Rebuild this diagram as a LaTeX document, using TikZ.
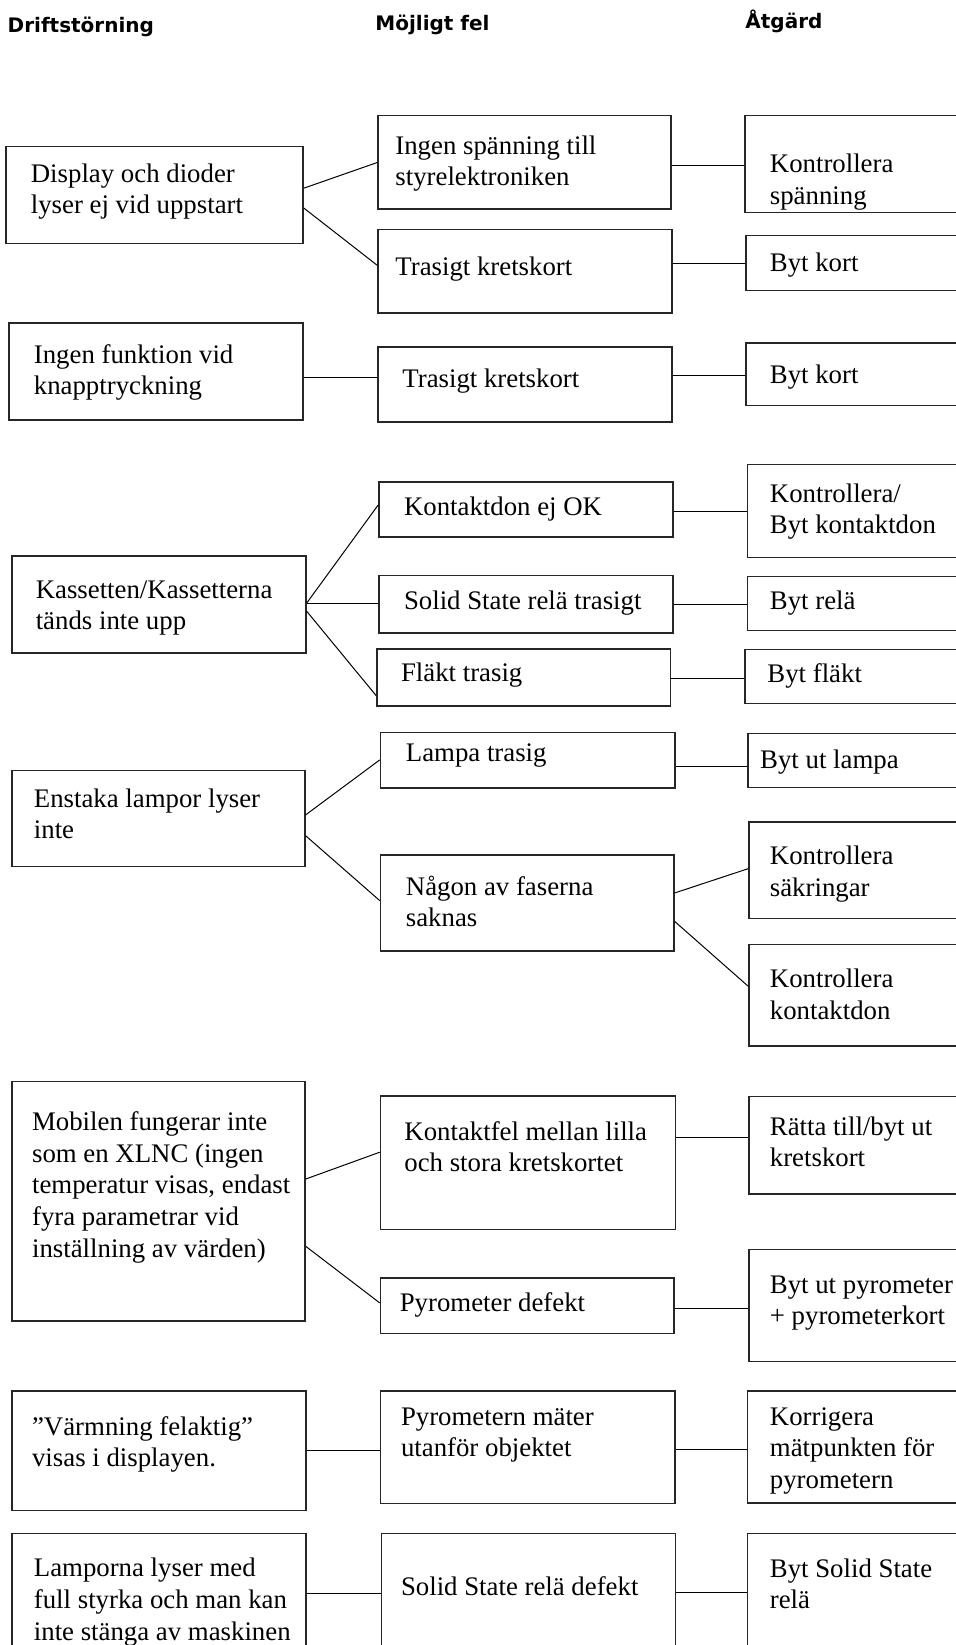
\documentclass[tikz,border=0pt]{standalone}
\usepackage{fontspec}
\setmainfont{Liberation Serif}
\newfontfamily\hdfont{DejaVu Sans}
\usetikzlibrary{fit}
\begin{document}
\begin{tikzpicture}[x=0.5pt,y=-0.5pt,
 box/.style={draw=black!85, line width=0.75pt, inner sep=0pt, rectangle},
 txt/.style={anchor=base west, inner sep=0pt, align=left, font=\fontsize{13.4}{15.9}\selectfont},
 hd/.style={anchor=base west, inner sep=0pt, font=\hdfont\bfseries\fontsize{10}{12}\selectfont},
 conn/.style={draw=black, line width=0.5pt}]
\useasboundingbox (0,0) rectangle (956,1645);
\clip (0,0) rectangle (956,1645);
% headers
\node[hd] (h1) at (7.3,32.3) {Driftstörning};
\node[hd] (h2) at (375,30.0) {Möjligt fel};
\node[hd] (h3) at (745,28.3) {Åtgärd};
% boxes
\node[box, fit={(6,146.6)(303,243.7)}] (A1) {};
\node[box, fit={(378,115.6)(671,209.1)}] (B1) {};
\node[box, fit={(745,115.6)(970,212.4)}] (C1) {};
\node[box, fit={(378,229.7)(672,312.9)}] (B2) {};
\node[box, fit={(746,235.4)(970,290.3)}] (C2) {};
\node[box, fit={(9,322.9)(303,420)}] (A2) {};
\node[box, fit={(378,347)(672,422)}] (B3) {};
\node[box, fit={(746,342.8)(970,405.4)}] (C3) {};
\node[box, fit={(379,481.9)(673,537.1)}] (B4) {};
\node[box, fit={(747.6,464.3)(970,557.4)}] (C4) {};
\node[box, fit={(12.2,556.1)(306,652.9)}] (A3) {};
\node[box, fit={(379,575.7)(673,633)}] (B5) {};
\node[box, fit={(747.6,576.4)(970,630.6)}] (C5) {};
\node[box, fit={(376.8,648.9)(670.7,706.1)}] (B6) {};
\node[box, fit={(745,649.6)(970,703.5)}] (C6) {};
\node[box, fit={(380.5,732.6)(675,788.2)}] (B7) {};
\node[box, fit={(748,733.3)(970,787.5)}] (C7) {};
\node[box, fit={(12.2,770.6)(305,866.7)}] (A4) {};
\node[box, fit={(380.5,855)(673.8,951.2)}] (B8) {};
\node[box, fit={(748.8,822.1)(970,918.6)}] (C8) {};
\node[box, fit={(748.8,944.5)(970,1046)}] (C9) {};
\node[box, fit={(12.2,1081.6)(305,1321.2)}] (A5) {};
\node[box, fit={(380.5,1096)(675.6,1229.7)}] (B9) {};
\node[box, fit={(748.8,1096.6)(970,1193.8)}] (C10) {};
\node[box, fit={(380.5,1277.9)(673.8,1333.5)}] (B10) {};
\node[box, fit={(748.8,1249.6)(970,1361.7)}] (C11) {};
\node[box, fit={(12.2,1391)(306,1510.4)}] (A6) {};
\node[box, fit={(380.5,1391)(675,1503.7)}] (B11) {};
\node[box, fit={(747.6,1391)(970,1503)}] (C12) {};
\node[box, fit={(12.2,1533.7)(306,1665)}] (A7) {};
\node[box, fit={(381.7,1533.7)(675.6,1665)}] (B12) {};
\node[box, fit={(747.6,1533.7)(970,1665)}] (C13) {};
% texts (anchored at the baseline of the last line)
\node[txt] (tA1) at (30.5,213.8) {Display och dioder\\lyser ej vid uppstart};
\node[txt] (tB1) at (395,185.8) {Ingen spänning till\\styrelektroniken};
\node[txt] (tC1) at (769.5,204.5) {Kontrollera\\spänning};
\node[txt] (tB2) at (395,275) {Trasigt kretskort};
\node[txt] (tC2) at (769.5,271.5) {Byt kort};
\node[txt] (tA2) at (33.5,394.8) {Ingen funktion vid\\knapptryckning};
\node[txt] (tB3) at (402,387) {Trasigt kretskort};
\node[txt] (tC3) at (769.5,383) {Byt kort};
\node[txt] (tB4) at (403.6,515) {Kontaktdon ej OK};
\node[txt] (tC4) at (769.5,533.8) {Kontrollera/\\Byt kontaktdon};
\node[txt] (tA3) at (35.4,629.8) {Kassetten/Kassetterna\\tänds inte upp};
\node[txt] (tB5) at (403.6,609) {Solid State relä trasigt};
\node[txt] (tC5) at (769.5,609) {Byt relä};
\node[txt] (tB6) at (400.6,681) {Fläkt trasig};
\node[txt] (tC6) at (767,682) {Byt fläkt};
\node[txt] (tB7) at (405.5,761.5) {Lampa trasig};
\node[txt] (tC7) at (759.8,768.3) {Byt ut lampa};
\node[txt] (tA4) at (33.5,838.8) {Enstaka lampor lyser\\inte};
\node[txt] (tB8) at (405.5,926.8) {Någon av faserna\\saknas};
\node[txt] (tC8) at (769.5,896.5) {Kontrollera\\säkringar};
\node[txt] (tC9) at (769.5,1019.5) {Kontrollera\\kontaktdon};
\node[txt] (tA5) at (31.7,1257.5) {Mobilen fungerar inte\\som en XLNC (ingen\\temperatur visas, endast\\fyra parametrar vid\\inställning av värden)};
\node[txt] (tB9) at (404,1171.8) {Kontaktfel mellan lilla\\och stora kretskortet};
\node[txt] (tC10) at (769.5,1166.8) {Rätta till/byt ut\\kretskort};
\node[txt] (tB10) at (399.4,1311) {Pyrometer defekt};
\node[txt] (tC11) at (769.5,1324.8) {Byt ut pyrometer\\+ pyrometerkort};
\node[txt] (tA6) at (31.7,1466.8) {”Värmning felaktig”\\visas i displayen.};
\node[txt] (tB11) at (400.6,1456.8) {Pyrometern mäter\\utanför objektet};
\node[txt] (tC12) at (769.5,1488.6) {Korrigera\\mätpunkten för\\pyrometern};
\node[txt] (tA7) at (33.5,1640.5) {Lamporna lyser med\\full styrka och man kan\\inte stänga av maskinen};
\node[txt] (tB12) at (400.6,1595) {Solid State relä defekt};
\node[txt] (tC13) at (769.5,1608.8) {Byt Solid State\\relä};
% connectors
\draw[conn] (A1.east |- 0,188.2) -- (B1.west |- 0,162.5);
\draw[conn] (A1.east |- 0,208) -- (B2.west |- 0,265.3);
\draw[conn] (B1.east |- 0,165.9) -- (C1.west |- 0,165.9);
\draw[conn] (B2.east |- 0,263.7) -- (C2.west |- 0,263.7);
\draw[conn] (A2.east |- 0,377) -- (B3.west |- 0,377);
\draw[conn] (B3.east |- 0,375.4) -- (C3.west |- 0,375.4);
\draw[conn] (A3.east |- 0,603) -- (B4.west |- 0,504.9);
\draw[conn] (A3.east |- 0,603.7) -- (B5.west |- 0,603.7);
\draw[conn] (A3.east |- 0,611.3) -- (B6.west |- 0,695.5);
\draw[conn] (B4.east |- 0,511.5) -- (C4.west |- 0,511.5);
\draw[conn] (B5.east |- 0,604.7) -- (C5.west |- 0,604.7);
\draw[conn] (B6.east |- 0,678.2) -- (C6.west |- 0,678.2);
\draw[conn] (A4.east |- 0,814.8) -- (B7.west |- 0,759.9);
\draw[conn] (A4.east |- 0,835.8) -- (B8.west |- 0,900.6);
\draw[conn] (B7.east |- 0,766.6) -- (C7.west |- 0,766.6);
\draw[conn] (B8.east |- 0,893) -- (C8.west |- 0,868.7);
\draw[conn] (B8.east |- 0,921.3) -- (C9.west |- 0,986.1);
\draw[conn] (A5.east |- 0,1179) -- (B9.west |- 0,1152.2);
\draw[conn] (A5.east |- 0,1246.3) -- (B10.west |- 0,1302.9);
\draw[conn] (B9.east |- 0,1137.2) -- (C10.west |- 0,1137.2);
\draw[conn] (B10.east |- 0,1308.9) -- (C11.west |- 0,1308.9);
\draw[conn] (A6.east |- 0,1450.8) -- (B11.west |- 0,1450.8);
\draw[conn] (B11.east |- 0,1449.8) -- (C12.west |- 0,1449.8);
\draw[conn] (A7.east |- 0,1593.6) -- (B12.west |- 0,1593.6);
\draw[conn] (B12.east |- 0,1592.9) -- (C13.west |- 0,1592.9);
\end{tikzpicture}
\end{document}
